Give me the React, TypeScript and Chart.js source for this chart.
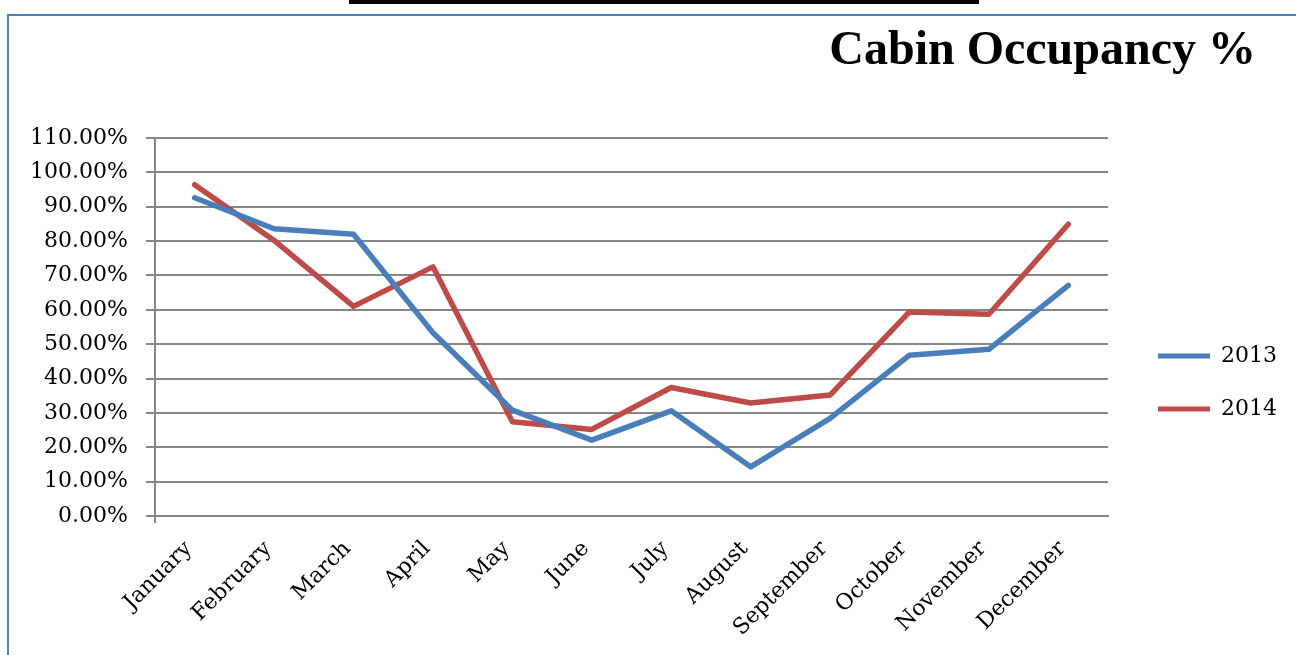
import React, { useEffect, useRef } from 'react';
import { Chart, registerables } from 'chart.js';

Chart.register(...registerables);

const months = [
  'January', 'February', 'March', 'April', 'May', 'June',
  'July', 'August', 'September', 'October', 'November', 'December',
];
const series2013 = [92.6, 83.6, 82.0, 53.3, 30.8, 22.1, 30.6, 14.3, 28.4, 46.8, 48.5, 67.1];
const series2014 = [96.4, 80.2, 61.0, 72.5, 27.4, 25.2, 37.4, 32.9, 35.2, 59.4, 58.7, 84.9];
const seriesNames = ['2013', '2014'];
const titleText = 'Cabin Occupancy %';

const BLUE = '#4A7EBB';
const RED = '#BE4B48';
const GRID = '#868686';
const FONT = "'DejaVu Serif', serif";

export default function App() {
  const ref = useRef<HTMLCanvasElement | null>(null);

  useEffect(() => {
    if (!ref.current) return;
    const chart = new Chart(ref.current, {
      type: 'line',
      data: {
        labels: months,
        datasets: [
          {
            label: seriesNames[0],
            data: series2013,
            borderColor: BLUE,
            backgroundColor: BLUE,
            borderWidth: 5.5,
            pointRadius: 0,
            tension: 0,
            borderCapStyle: 'round',
            borderJoinStyle: 'round',
          },
          {
            label: seriesNames[1],
            data: series2014,
            borderColor: RED,
            backgroundColor: RED,
            borderWidth: 5.5,
            pointRadius: 0,
            tension: 0,
            borderCapStyle: 'round',
            borderJoinStyle: 'round',
          },
        ],
      },
      options: {
        responsive: true,
        maintainAspectRatio: false,
        animation: false,
        layout: { padding: { left: 0, top: 138, right: 9, bottom: 0 } },
        scales: {
          x: {
            type: 'category',
            offset: true,
            grid: {
              display: true,
              drawOnChartArea: false,
              drawTicks: true,
              tickLength: 7,
              offset: true,
              lineWidth: 2,
              color: (ctx: any) => (ctx.index === 0 || ctx.index === months.length ? GRID : 'rgba(0,0,0,0)'),
            },
            border: { display: true, color: GRID, width: 2 },
            ticks: {
              minRotation: 45,
              maxRotation: 45,
              autoSkip: false,
              padding: 13,
              labelOffset: -6,
              color: '#000',
              font: { family: FONT, size: 22 },
            },
            afterFit: (s: any) => { s.height = 139; },
          },
          y: {
            type: 'linear',
            min: 0,
            max: 110,
            grid: {
              color: GRID,
              lineWidth: 2,
              tickLength: 9,
              drawTicks: true,
            },
            border: { display: true, color: GRID, width: 2 },
            ticks: {
              stepSize: 10,
              padding: 18,
              color: '#000',
              font: { family: FONT, size: 22 },
              callback: (v: any) => Number(v).toFixed(2) + '%',
            },
            afterFit: (s: any) => { s.width = 155; },
          },
          spacer: {
            type: 'linear',
            position: 'right',
            display: true,
            grid: { display: false },
            border: { display: false },
            ticks: { display: false },
            afterFit: (s: any) => { s.width = 19; },
          },
        },
        plugins: {
          title: { display: false },
          tooltip: { enabled: false },
          legend: {
            display: true,
            position: 'right',
            align: 'center',
            fullSize: false,
            title: {
              display: true,
              text: ' ',
              padding: { top: 50, bottom: 50 },
              font: { size: 11, lineHeight: 1 },
            },
            labels: {
              boxWidth: 52,
              boxHeight: 5,
              padding: 31,
              color: '#000',
              font: { family: FONT, size: 22 },
              generateLabels: (c: any) =>
                Chart.defaults.plugins.legend.labels.generateLabels(c).map((l: any) => ({
                  ...l,
                  fillStyle: l.strokeStyle,
                  lineWidth: 0,
                })),
            },
          },
        },
      } as any,
    });
    return () => chart.destroy();
  }, []);

  return (
    <div style={{ position: 'absolute', left: 0, top: 0, width: 1296, height: 655, overflow: 'hidden', background: '#fff' }}>
      <div style={{ position: 'absolute', left: 349, top: 0, width: 630, height: 4, background: '#000' }} />
      <div
        style={{
          position: 'absolute', left: 7, top: 14, width: 1320, height: 700,
          borderLeft: '2.5px solid #4F81BD', borderTop: '2.5px solid #4F81BD',
        }}
      />
      <div style={{ position: 'absolute', left: 0, top: 0, width: 1296, height: 655 }}>
        <canvas ref={ref} />
      </div>
      <div
        style={{
          position: 'absolute', right: 40, top: 24, lineHeight: '48px', fontSize: 48,
          fontWeight: 'bold', fontFamily: "'Liberation Serif', serif", color: '#000', whiteSpace: 'nowrap',
        }}
      >
        {titleText}
      </div>
    </div>
  );
}
